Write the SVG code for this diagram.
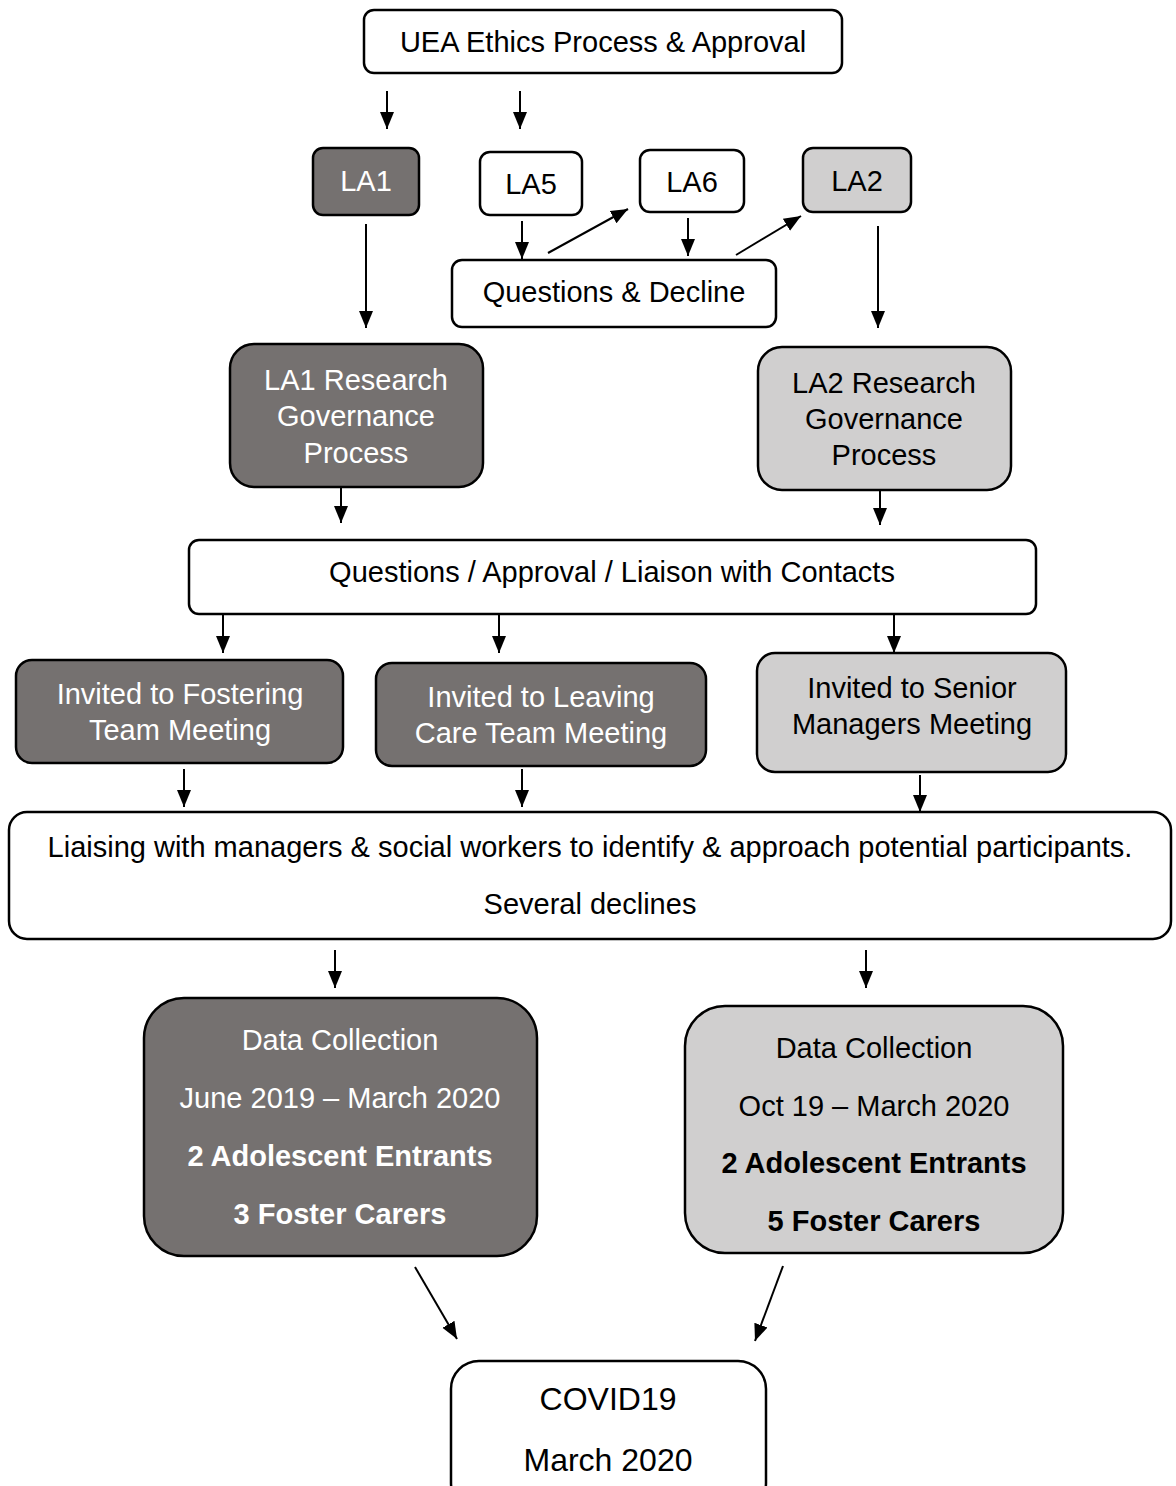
<svg xmlns="http://www.w3.org/2000/svg" width="1176" height="1486" viewBox="0 0 1176 1486">
<defs>
<marker id="ah" markerUnits="userSpaceOnUse" markerWidth="18" markerHeight="18" viewBox="0 0 18 18" refX="17" refY="9" orient="auto">
<path d="M0,2 L17,9 L0,16 Z" fill="#000"/>
</marker>
<style>
.box{stroke:#000;stroke-width:2.5}
.w{fill:#fff}
.d{fill:#757170}
.l{fill:#d0cfcf}
text{font-family:"Liberation Sans",Arial,sans-serif;font-size:29px;text-anchor:middle}
.tw{fill:#fff}
.tb{fill:#000}
.b{font-weight:bold}
.big{font-size:32px}
.c line{stroke:#000;stroke-width:2;marker-end:url(#ah)}
</style>
</defs>
<rect width="1176" height="1486" fill="#fff"/>
<g class="c" id="connectors">
<line x1="387" y1="91" x2="387" y2="129"/>
<line x1="520" y1="91" x2="520" y2="129"/>
<line x1="366" y1="224" x2="366" y2="328"/>
<line x1="522" y1="221" x2="522" y2="259"/>
<line x1="548" y1="253" x2="628" y2="209"/>
<line x1="688" y1="218" x2="688" y2="256"/>
<line x1="736" y1="255" x2="801" y2="216"/>
<line x1="878" y1="226" x2="878" y2="328"/>
<line x1="341" y1="488" x2="341" y2="523"/>
<line x1="880" y1="491" x2="880" y2="525"/>
<line x1="223" y1="615" x2="223" y2="653"/>
<line x1="499" y1="615" x2="499" y2="653"/>
<line x1="894" y1="615" x2="894" y2="653"/>
<line x1="184" y1="769" x2="184" y2="807"/>
<line x1="522" y1="769" x2="522" y2="807"/>
<line x1="920" y1="775" x2="920" y2="812"/>
<line x1="335" y1="950" x2="335" y2="988"/>
<line x1="866" y1="950" x2="866" y2="988"/>
<line x1="415" y1="1267" x2="457" y2="1339"/>
<line x1="783" y1="1266" x2="755" y2="1341"/>
</g>
<g id="uea"><rect class="box w" x="364" y="10" width="478" height="63" rx="10"/><text class="tb" x="603" y="52">UEA Ethics Process &amp; Approval</text></g>
<g id="la1"><rect class="box d" x="313" y="148" width="106" height="67" rx="10"/><text class="tw" x="366" y="191">LA1</text></g>
<g id="la5"><rect class="box w" x="480" y="152" width="102" height="63" rx="10"/><text class="tb" x="531" y="194">LA5</text></g>
<g id="la6"><rect class="box w" x="640" y="150" width="104" height="62" rx="10"/><text class="tb" x="692" y="192">LA6</text></g>
<g id="la2"><rect class="box l" x="803" y="148" width="108" height="64" rx="10"/><text class="tb" x="857" y="191">LA2</text></g>
<g id="qd"><rect class="box w" x="452" y="260" width="324" height="67" rx="10"/><text class="tb" x="614" y="302">Questions &amp; Decline</text></g>
<g id="la1rgp"><rect class="box d" x="230" y="344" width="253" height="143" rx="24"/><text class="tw" x="356" y="390">LA1 Research</text><text class="tw" x="356" y="426">Governance</text><text class="tw" x="356" y="463">Process</text></g>
<g id="la2rgp"><rect class="box l" x="758" y="347" width="253" height="143" rx="24"/><text class="tb" x="884" y="393">LA2 Research</text><text class="tb" x="884" y="429">Governance</text><text class="tb" x="884" y="465">Process</text></g>
<g id="qa"><rect class="box w" x="189" y="540" width="847" height="74" rx="10"/><text class="tb" x="612" y="582">Questions / Approval / Liaison with Contacts</text></g>
<g id="fost"><rect class="box d" x="16" y="660" width="327" height="103" rx="16"/><text class="tw" x="180" y="704">Invited to Fostering</text><text class="tw" x="180" y="740">Team Meeting</text></g>
<g id="leav"><rect class="box d" x="376" y="663" width="330" height="103" rx="16"/><text class="tw" x="541" y="707">Invited to Leaving</text><text class="tw" x="541" y="743">Care Team Meeting</text></g>
<g id="senior"><rect class="box l" x="757" y="653" width="309" height="119" rx="18"/><text class="tb" x="912" y="698">Invited to Senior</text><text class="tb" x="912" y="734">Managers Meeting</text></g>
<g id="liaising"><rect class="box w" x="9" y="812" width="1162" height="127" rx="18"/><text class="tb" x="590" y="857">Liaising with managers &amp; social workers to identify &amp; approach potential participants.</text><text class="tb" x="590" y="914">Several declines</text></g>
<g id="dc1"><rect class="box d" x="144" y="998" width="393" height="258" rx="40"/><text class="tw" x="340" y="1050">Data Collection</text><text class="tw" x="340" y="1108">June 2019 – March 2020</text><text class="tw b" x="340" y="1166">2 Adolescent Entrants</text><text class="tw b" x="340" y="1224">3 Foster Carers</text></g>
<g id="dc2"><rect class="box l" x="685" y="1006" width="378" height="247" rx="40"/><text class="tb" x="874" y="1058">Data Collection</text><text class="tb" x="874" y="1116">Oct 19 – March 2020</text><text class="tb b" x="874" y="1173">2 Adolescent Entrants</text><text class="tb b" x="874" y="1231">5 Foster Carers</text></g>
<g id="covid"><rect class="box w" x="451" y="1361" width="315" height="150" rx="28"/><text class="tb big" x="608" y="1410">COVID19</text><text class="tb big" x="608" y="1471">March 2020</text></g>
</svg>
